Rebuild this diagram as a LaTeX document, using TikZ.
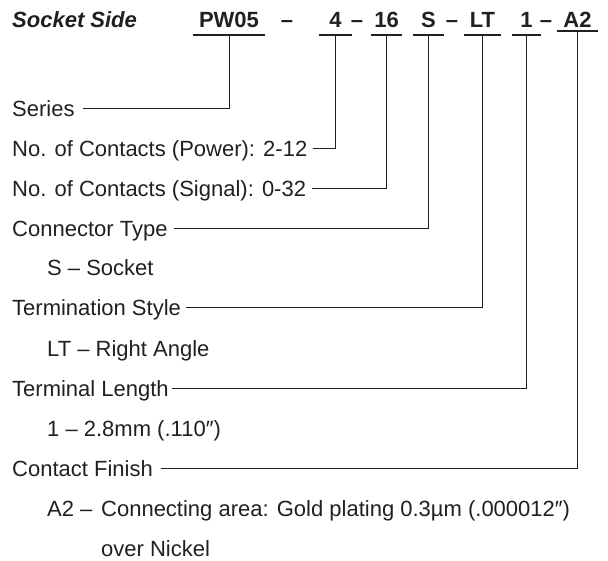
\documentclass[tikz,border=0pt]{standalone}
\usepackage{fontspec}
\setmainfont{Liberation Sans}
\usetikzlibrary{positioning}
\definecolor{ink}{RGB}{35,31,32}
\tikzset{
  lbl/.style={anchor=west,inner sep=0pt,text height=16pt,text depth=0pt,
    font=\fontsize{22}{26}\selectfont,text=ink},
  code/.style={inner sep=0pt,text height=15.5pt,text depth=0pt,minimum height=30pt,
    font=\fontsize{22}{26}\selectfont\bfseries,text=ink},
  uline/.style={line width=1.8pt,draw=ink},
  lead/.style={line width=1pt,draw=ink}
}

\begin{document}
\begin{tikzpicture}[x=1pt,y=-1pt]
\useasboundingbox (0,0) rectangle (608,561);
% part number
\node[code,anchor=west,font=\fontsize{22}{26}\selectfont\bfseries\itshape] (side) at (12,20) {Socket Side};
\node[code,minimum width=72pt] (pw) at (229,20) {PW05};
\node[code] (d1) at (287,20) {--};
\node[code,minimum width=33pt] (pow) at (335.5,20) {4};
\node[code] (d2) at (357,20) {--};
\node[code,minimum width=31pt] (sig) at (386.5,20) {16};
\node[code,minimum width=31pt] (typ) at (428.5,20) {S};
\node[code] (d3) at (452,20) {--};
\node[code,minimum width=37pt] (term) at (482.5,20) {LT};
\node[code,minimum width=29pt] (len) at (526.5,20) {1};
\node[code] (d4) at (546,20) {--};
\node[code,minimum width=41pt,minimum height=22pt] (fin) at (577.5,20) {A2};
\foreach \c in {pw,pow,sig,typ,term,len,fin}
  \draw[uline] (\c.south west) -- (\c.south east);

% descriptions
\node[lbl] (series) at (12,109) {Series};
\node[lbl] (power) at (12,149) {No. of Contacts (Power): 2-12};
\node[lbl] (signal) at (12,189) {No. of Contacts (Signal): 0-32};
\node[lbl] (ctype) at (12,229) {Connector Type};
\node[lbl] (ctypeS) at (47,268) {S -- Socket};
\node[lbl] (tstyle) at (12,308) {Termination Style};
\node[lbl] (tstyleLT) at (47,348) {LT -- Right Angle};
\node[lbl] (tlen) at (12,388) {Terminal Length};
\node[lbl] (tlen1) at (47,428) {1 -- 2.8mm (.110″)};
\node[lbl] (cfin) at (12,468) {Contact Finish};
\node[lbl] (cfinA) at (47,508) {\makebox[54pt][l]{A2 --}Connecting area: Gold plating 0.3µm (.000012″)};
\node[lbl] (cfinB) at (101,548) {over Nickel};

% leaders
\draw[lead] ([xshift=8pt]series.east) -| (pw.south);
\draw[lead] ([xshift=6pt]power.east) -| (pow.south);
\draw[lead] ([xshift=6pt]signal.east) -| (sig.south);
\draw[lead] ([xshift=6pt]ctype.east) -| (typ.south);
\draw[lead] ([xshift=5pt]tstyle.east) -| (term.south);
\draw[lead] ([xshift=3pt]tlen.east) -| (len.south);
\draw[lead] ([xshift=8pt]cfin.east) -| (fin.south);
\end{tikzpicture}
\end{document}
